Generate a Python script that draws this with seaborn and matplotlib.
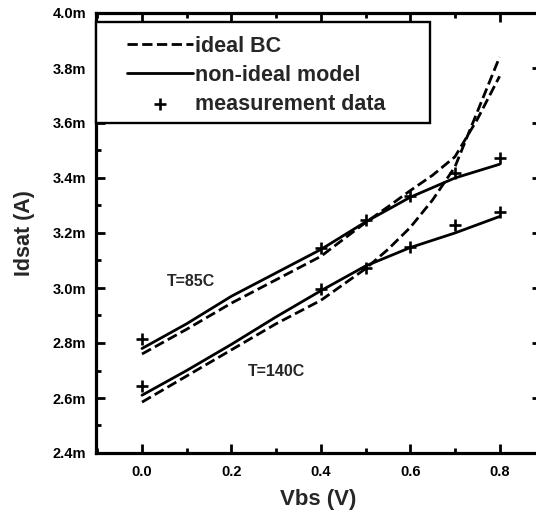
import numpy as np
import pandas as pd
import matplotlib
matplotlib.use("Agg")
import matplotlib.pyplot as plt
import seaborn as sns
from matplotlib.ticker import MultipleLocator, FuncFormatter
from matplotlib.patches import Rectangle

# ---------------- data (Idsat in mA) ----------------
vbs_meas = [0.0, 0.4, 0.5, 0.6, 0.7, 0.8]
meas_85 = [2.815, 3.145, 3.247, 3.335, 3.418, 3.473]
meas_140 = [2.644, 2.995, 3.073, 3.150, 3.229, 3.275]

vbs_model = [0.0, 0.1, 0.2, 0.3, 0.4, 0.5, 0.6, 0.7, 0.8]
model_85 = [2.78, 2.87, 2.97, 3.055, 3.14, 3.24, 3.33, 3.40, 3.45]
model_140 = [2.61, 2.70, 2.795, 2.895, 2.99, 3.08, 3.147, 3.20, 3.26]

vbs_ideal = [0.0, 0.1, 0.2, 0.3, 0.4, 0.5, 0.55, 0.6, 0.65, 0.7, 0.75, 0.8]
ideal_85 = [2.76, 2.85, 2.945, 3.03, 3.115, 3.238, 3.295, 3.354, 3.41, 3.477, 3.613, 3.77]
ideal_140 = [2.585, 2.68, 2.775, 2.87, 2.955, 3.07, 3.14, 3.22, 3.32, 3.44, 3.64, 3.84]

labels_legend = ["ideal BC", "non-ideal model", "measurement data"]
annotations = [("T=85C", 0.11, 3.025), ("T=140C", 0.30, 2.695)]

# ---------------- style ----------------
sns.set_style("ticks")
plt.rcParams["font.family"] = ["Liberation Sans", "DejaVu Sans"]
plt.rcParams["font.weight"] = "bold"

W, H = 536, 516
fig = plt.figure(figsize=(W / 100, H / 100), dpi=100)
fig.patch.set_facecolor("white")
left_px, right_px, top_px, bot_px = 96, 541, 13, 453
x0_px, x_scale = 142.0, 447.0
ax = fig.add_axes([left_px / W, (H - bot_px) / H,
                   (right_px - left_px) / W, (bot_px - top_px) / H])
ax.set_facecolor("white")

lw = 2.0
sns.lineplot(x=vbs_ideal, y=ideal_85, ax=ax, color="black", linestyle="--",
             linewidth=lw, label=labels_legend[0], sort=False)
sns.lineplot(x=vbs_ideal, y=ideal_140, ax=ax, color="black", linestyle="--",
             linewidth=lw, sort=False, legend=False)
sns.lineplot(x=vbs_model, y=model_85, ax=ax, color="black", linestyle="-",
             linewidth=lw, label=labels_legend[1], sort=False)
sns.lineplot(x=vbs_model, y=model_140, ax=ax, color="black", linestyle="-",
             linewidth=lw, sort=False, legend=False)
sns.scatterplot(x=vbs_meas, y=meas_85, ax=ax, color="black", marker="+",
                s=80, linewidth=1.9, label=labels_legend[2], zorder=5)
sns.scatterplot(x=vbs_meas, y=meas_140, ax=ax, color="black", marker="+",
                s=80, linewidth=1.9, legend=False, zorder=5)

ax.set_xlim((left_px - x0_px) / x_scale, (right_px - x0_px) / x_scale)
ax.set_ylim(2.4, 4.0)

ax.xaxis.set_major_locator(MultipleLocator(0.2))
ax.xaxis.set_minor_locator(MultipleLocator(0.1))
ax.yaxis.set_major_locator(MultipleLocator(0.2))
ax.yaxis.set_minor_locator(MultipleLocator(0.1))
ax.xaxis.set_major_formatter(FuncFormatter(lambda v, p: f"{v:.1f}"))
ax.yaxis.set_major_formatter(FuncFormatter(lambda v, p: f"{v:.1f}m"))

ax.tick_params(axis="both", which="both", direction="in", top=True, right=True,
               colors="black", labelsize=10.5)
ax.tick_params(which="major", length=6.5, width=2)
ax.tick_params(which="minor", length=3.5, width=2)
ax.tick_params(axis="x", pad=9)
ax.tick_params(axis="y", pad=7)
for lab in ax.get_xticklabels() + ax.get_yticklabels():
    lab.set_fontweight("bold")

for s in ax.spines.values():
    s.set_linewidth(2.3)
    s.set_color("black")

ax.set_xlabel("Vbs (V)", fontsize=16, fontweight="bold", labelpad=7)
ax.set_ylabel("Idsat (A)", fontsize=15.5, fontweight="bold", labelpad=13)

for txt, xv, yv in annotations:
    ax.text(xv, yv, txt, fontsize=11.5, fontweight="bold", ha="center", va="center")

# legend frame drawn as a box attached to the left spine
ax_w, ax_h = right_px - left_px, bot_px - top_px
box_l, box_r, box_t, box_b = 96, 430, 22, 123
ax.add_patch(Rectangle(((box_l - left_px) / ax_w, (bot_px - box_b) / ax_h),
                       (box_r - box_l) / ax_w, (box_b - box_t) / ax_h,
                       transform=ax.transAxes, facecolor="white",
                       edgecolor="black", linewidth=1.7, zorder=6, clip_on=False))

handles, labs = ax.get_legend_handles_labels()
leg = ax.legend(handles, labs, loc="upper left",
                bbox_to_anchor=((127 - left_px) / ax_w, (bot_px - 36) / ax_h),
                frameon=False, prop={"weight": "bold", "size": 15.5},
                handlelength=3.05, handletextpad=0.12, borderpad=0.0,
                labelspacing=0.36, borderaxespad=0.0)
leg.set_zorder(7)

fig.savefig("out.png", dpi=100, facecolor="white")
